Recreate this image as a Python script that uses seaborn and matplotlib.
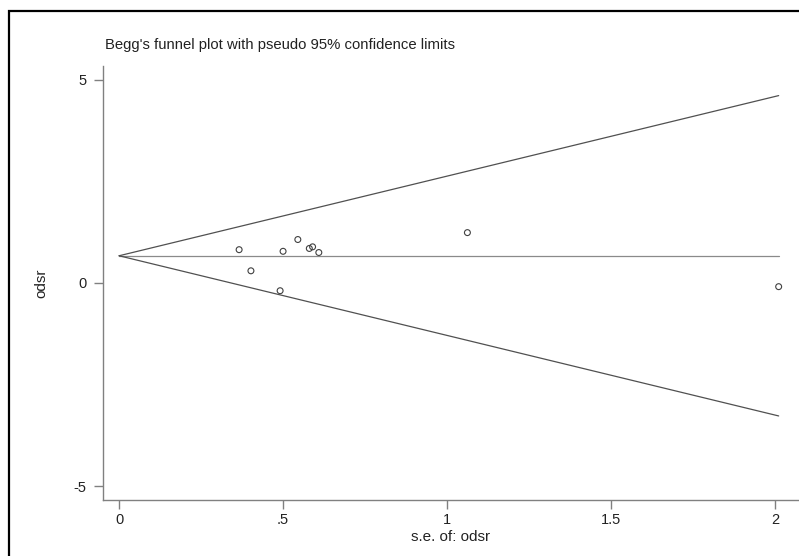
import numpy as np
import pandas as pd
import seaborn as sns
import matplotlib.pyplot as plt
from matplotlib.patches import Rectangle

# study estimates
se_odsr = [0.366, 0.402, 0.491, 0.500, 0.545, 0.580, 0.590, 0.609, 1.062, 2.011]
odsr = [0.82, 0.30, -0.19, 0.78, 1.07, 0.85, 0.89, 0.75, 1.24, -0.09]
pooled = 0.67

x_ticks = [0, 0.5, 1, 1.5, 2]
x_ticklabels = ["0", ".5", "1", "1.5", "2"]
y_ticks = [-5, 0, 5]
y_ticklabels = ["-5", "0", "5"]

sns.set_style("white")
plt.rcParams['font.family'] = ['Liberation Sans', 'DejaVu Sans']

studies = pd.DataFrame({'se': se_odsr, 'odsr': odsr})

# pseudo 95% limits from se = 0 to the largest se
se_max = max(se_odsr)
limits = pd.DataFrame({
    'se': [0, se_max] * 3,
    'value': [pooled, pooled,
              pooled + 1.96 * 0, pooled + 1.96 * se_max,
              pooled - 1.96 * 0, pooled - 1.96 * se_max],
    'line': ['pooled'] * 2 + ['upper'] * 2 + ['lower'] * 2,
})

fig = plt.figure(figsize=(7.99, 5.56), dpi=100)
ax = fig.add_axes([103 / 799, 1 - 500 / 556, 696 / 799, 434 / 556])

sns.lineplot(data=limits, x='se', y='value', hue='line',
             palette={'pooled': '#8a8a8a', 'upper': '#505050', 'lower': '#505050'},
             linewidth=0.9, legend=False, ax=ax)
sns.scatterplot(data=studies, x='se', y='odsr', marker='o', s=18,
                facecolor='none', edgecolor='#404040', linewidth=0.8, ax=ax)

ax.set_xlim(-0.049, 2.073)
ax.set_ylim(-5.34, 5.34)
ax.set_xticks(x_ticks)
ax.set_xticklabels(x_ticklabels)
ax.set_yticks(y_ticks)
ax.set_yticklabels(y_ticklabels)

for side in ['top', 'right']:
    ax.spines[side].set_visible(False)
for side in ['left', 'bottom']:
    ax.spines[side].set_color('#808080')
    ax.spines[side].set_linewidth(1.0)

ax.tick_params(axis='both', direction='out', length=6.5, width=1.0,
               color='#808080', labelsize=10.5, labelcolor='#222222',
               bottom=True, left=True)
ax.tick_params(axis='y', pad=5.5)
ax.tick_params(axis='x', pad=3)

ax.set_xlabel("s.e. of: odsr", fontsize=11, color='#222222')
ax.set_ylabel("odsr", fontsize=11, color='#222222')
ax.xaxis.set_label_coords(0.5, -0.07)
ax.yaxis.set_label_coords(-0.078, 0.5)

fig.text(105 / 799, 1 - 45 / 556, "Begg's funnel plot with pseudo 95% confidence limits",
         fontsize=10.75, color='#222222', ha='left', va='center')

# outer frame
fig.patches.append(Rectangle((9 / 799, -0.1), 1.2, 1 - 11 / 556 + 0.1,
                             transform=fig.transFigure, fill=False,
                             edgecolor='black', linewidth=1.6))

plt.savefig("out.png", dpi=100)
